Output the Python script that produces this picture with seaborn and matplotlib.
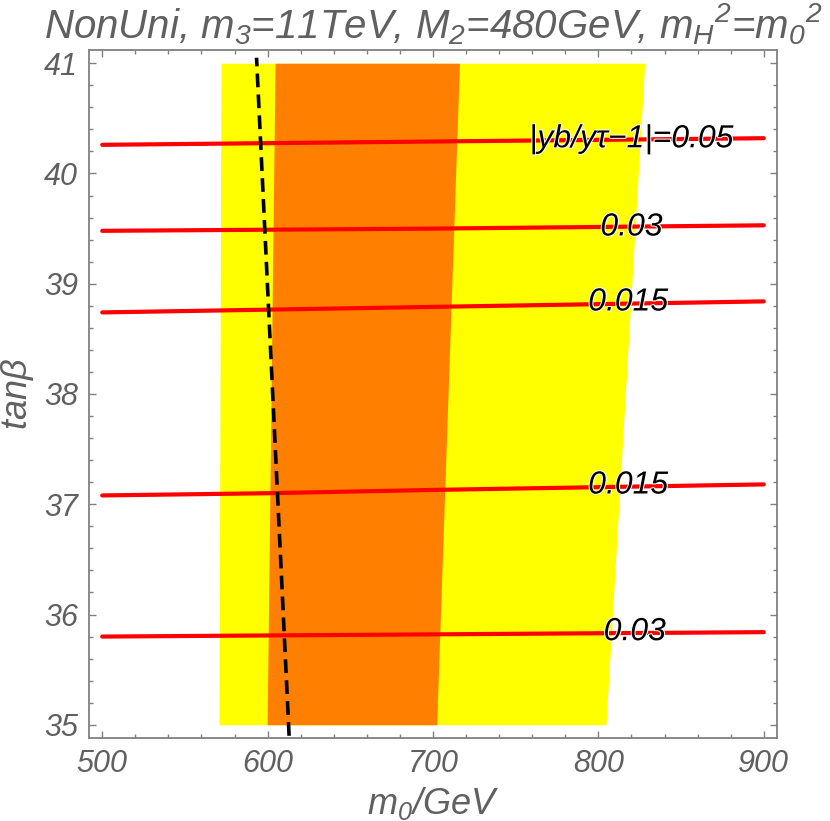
import numpy as np
import pandas as pd
import matplotlib
matplotlib.use("Agg")
import matplotlib.pyplot as plt
import matplotlib.patheffects as pe
import seaborn as sns
from matplotlib.ticker import MultipleLocator

# ---- data ----
band_y = [35.0, 41.0]
yellow_left = [570.6, 571.8]
yellow_right = [804.6, 828.0]
orange_left = [599.7, 604.5]
orange_right = [702.2, 716.0]

dash_y = [34.9, 41.05]
dash_x = [613.0, 593.3]

contour_x = [500, 600, 700, 800, 900]
c005 = [40.26, 40.275, 40.29, 40.305, 40.32]
c003_up = [39.48, 39.49, 39.50, 39.515, 39.53]
c0015_up = [38.74, 38.765, 38.79, 38.815, 38.84]
c0015_lo = [37.08, 37.10, 37.13, 37.155, 37.18]
c003_lo = [35.80, 35.81, 35.82, 35.83, 35.84]

label_x = [820, 820, 818, 818, 822]
label_y = [40.31, 39.51, 38.83, 37.17, 35.84]
label_txt = ["|yb/y\u03c4\u22121|=0.05", "0.03", "0.015", "0.015", "0.03"]

xticks = [500, 600, 700, 800, 900]
yticks = [35, 36, 37, 38, 39, 40, 41]

# ---- style ----
sns.set_theme(style="white")
fam = ["Liberation Sans", "DejaVu Sans"]
plt.rcParams["font.family"] = fam
plt.rcParams["mathtext.fontset"] = "custom"
plt.rcParams["mathtext.it"] = "Liberation Sans:italic"
plt.rcParams["mathtext.rm"] = "Liberation Sans:italic"
plt.rcParams["mathtext.default"] = "it"
gray = "#606060"

fig = plt.figure(figsize=(8.3, 8.21), dpi=100)
ax = fig.add_axes([89 / 830, 1 - 738 / 821, (777 - 89) / 830, (738 - 50) / 821])

# bands
ax.fill_betweenx(band_y, yellow_left, yellow_right, color="#FFFF00", lw=0, zorder=1)
ax.fill_betweenx(band_y, orange_left, orange_right, color="#FF8000", lw=0, zorder=2)

# contours
curves = {"c005": c005, "c003_up": c003_up, "c0015_up": c0015_up,
          "c0015_lo": c0015_lo, "c003_lo": c003_lo}
for name, ys in curves.items():
    df = pd.DataFrame({"x": contour_x, "y": ys})
    sns.lineplot(data=df, x="x", y="y", ax=ax, color="#FF0000", lw=3.0,
                 sort=False, zorder=3, estimator=None)

dfd = pd.DataFrame({"x": dash_x, "y": dash_y})
sns.lineplot(data=dfd, x="x", y="y", ax=ax, color="black", lw=2.6,
             sort=False, estimator=None, zorder=4, dashes=False,
             linestyle=(0, (3.8, 2.0)))

for xx, yy, tt in zip(label_x, label_y, label_txt):
    ax.text(xx, yy, tt, ha="center", va="center", fontsize=23,
            style="italic", color="black", zorder=5,
            path_effects=[pe.withStroke(linewidth=1.5, foreground="white")])

ax.set_xlim(492, 908)
ax.set_ylim(34.88, 41.12)
ax.xaxis.set_major_locator(MultipleLocator(100))
ax.xaxis.set_minor_locator(MultipleLocator(20))
ax.yaxis.set_major_locator(MultipleLocator(1))
ax.yaxis.set_minor_locator(MultipleLocator(0.2))
ax.set_xticks(xticks)
ax.set_yticks(yticks)
ax.tick_params(which="both", direction="in", top=True, right=True,
               bottom=True, left=True, color="#808080", width=1.0)
ax.tick_params(which="major", length=5, labelsize=22, labelcolor=gray, pad=8)
ax.tick_params(which="minor", length=3)
for lab in ax.get_xticklabels() + ax.get_yticklabels():
    lab.set_fontstyle("italic")
for s in ax.spines.values():
    s.set_color("#808080")
    s.set_linewidth(1.3)

ax.set_xlabel(r"$m_0$/GeV", fontsize=26, color=gray, style="italic", labelpad=4)
ax.set_ylabel(r"tan$\beta$", fontsize=26, color=gray, style="italic", labelpad=6)
ax.set_title(r"NonUni, $m_3$=11TeV, $M_2$=480GeV, $m_H{}^2$=$m_0{}^2$",
             fontsize=29, color=gray, style="italic", pad=8)

fig.savefig("out.png", dpi=100)
